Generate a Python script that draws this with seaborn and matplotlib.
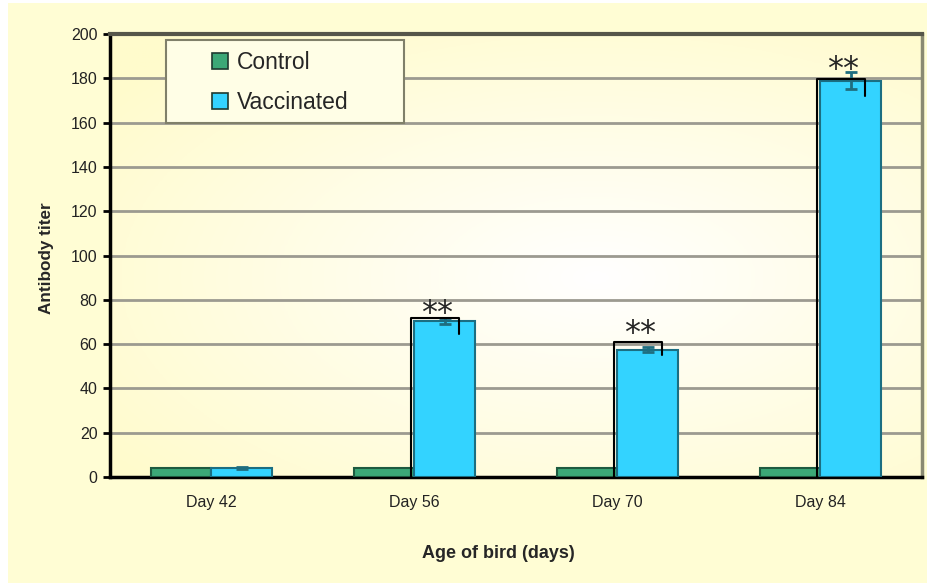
import matplotlib
matplotlib.use("Agg")
import matplotlib.pyplot as plt
from matplotlib.patches import Rectangle
import numpy as np
import pandas as pd
import seaborn as sns

# values
days = ["Day 42", "Day 56", "Day 70", "Day 84"]
control = [4, 4, 4, 4]
vaccinated = [4, 70.5, 57.5, 179]
vacc_err = [0.5, 1.2, 1.0, 4]
# significance brackets (only days 56, 70, 84)
sig_days = ["Day 56", "Day 70", "Day 84"]
bracket_top = [72, 61, 179.5]
bracket_end = [64.5, 55, 172]
star_y = [74, 65, 184]

df = pd.DataFrame({
    "day": days * 2,
    "titer": control + vaccinated,
    "group": ["Control"] * 4 + ["Vaccinated"] * 4,
})

bg = "#FFFDD4"
sns.set_style("white")
plt.rcParams["font.family"] = ["Liberation Sans", "DejaVu Sans"]

fig = plt.figure(figsize=(9.28, 5.83), dpi=100, facecolor="white")
# yellow panel with a thin white strip at left/top like the original
fig.patches.append(Rectangle((8 / 928, 0), 1, 1 - 3 / 583, transform=fig.transFigure,
                             facecolor=bg, edgecolor="none", zorder=-10))
ax = fig.add_axes([110 / 928, 106 / 583, 812 / 928, 443 / 583])
ax.set_zorder(1)

# soft gradient in the plot area
yy, xx = np.mgrid[0:1:200j, 0:1:200j]
r = np.sqrt(((xx - 0.6) / 0.75) ** 2 + ((yy - 0.55) / 0.7) ** 2)
r = np.clip(r, 0, 1)
c0 = np.array([1.0, 1.0, 1.0])
c1 = np.array([1.0, 0.985, 0.80])
img = c0[None, None, :] * (1 - r[..., None]) + c1[None, None, :] * r[..., None]
ax.imshow(img, extent=[0, 1, 0, 1], transform=ax.transAxes, aspect="auto", zorder=0)

sns.barplot(data=df, x="day", y="titer", hue="group", order=days,
            palette={"Control": "#3CA877", "Vaccinated": "#33D3FF"},
            width=0.6, errorbar=None, ax=ax, zorder=3, saturation=1)

ctrl_bars = ax.containers[0]
vacc_bars = ax.containers[1]
for p in ctrl_bars:
    p.set_edgecolor("#1E5A40")
    p.set_linewidth(1.5)
for p in vacc_bars:
    p.set_edgecolor("#1B6E82")
    p.set_linewidth(1.5)

vx = [p.get_x() + p.get_width() / 2 for p in vacc_bars]
ax.errorbar(vx, vaccinated, yerr=vacc_err, fmt="none", ecolor="#1F6E80",
            elinewidth=2, capsize=4, capthick=2, zorder=4)

for d, top, end, sy in zip(sig_days, bracket_top, bracket_end, star_y):
    p = vacc_bars[days.index(d)]
    x0 = p.get_x() - 0.015
    x1 = p.get_x() + 0.22
    ax.plot([x0, x0, x1, x1], [0, top, top, end], color="black", lw=1.5, zorder=5)
    ax.text(p.get_x() + 0.11, sy, "**", ha="center", va="center",
            fontsize=23, family="DejaVu Sans", zorder=6)

ax.set_xlim(-0.5, 3.5)
ax.set_ylim(0, 200)
ax.set_yticks(range(0, 201, 20))
ax.yaxis.grid(True, color="#9C9A90", lw=2)
ax.set_axisbelow(True)
for gl in ax.get_ygridlines():
    gl.set_zorder(1)

ax.set_xticks(range(4))
ax.set_xticklabels(days)
ax.set_xticks([0.5, 1.5, 2.5, 3.5], minor=True)
ax.tick_params(axis="x", which="major", length=0, pad=13, labelsize=11.5, labelcolor="#222222")
ax.tick_params(axis="x", which="minor", length=4, width=2, color="black", direction="out")
ax.tick_params(axis="y", length=5, width=2, color="black", direction="out", labelsize=11.5,
               labelcolor="#222222", left=True, pad=4)

ax.set_xlabel("Age of bird (days)", fontsize=13, fontweight="bold")
ax.xaxis.set_label_coords((498 - 110) / 812, -(545 - 477) / 443)
ax.set_ylabel("Antibody titer", fontsize=12.3, fontweight="bold")
ax.yaxis.set_label_coords(-(110 - 54) / 812, (477 - 258) / 443)

ax.spines["left"].set_color("black")
ax.spines["left"].set_linewidth(2.5)
ax.spines["bottom"].set_color("black")
ax.spines["bottom"].set_linewidth(2.5)
ax.spines["top"].set_color("#56564A")
ax.spines["top"].set_linewidth(3)
ax.spines["right"].set_color("#8A8A72")
ax.spines["right"].set_linewidth(2.5)

# legend box drawn separately, entries placed inside it
box = Rectangle((56 / 812, (477 - 123) / 443), 238 / 812, 83 / 443, transform=ax.transAxes,
                facecolor="#FFFEE6", edgecolor="#80806A", lw=1.5, zorder=9)
ax.add_patch(box)
leg = ax.legend(loc="upper left", bbox_to_anchor=((212 - 110) / 812, (477 - 51) / 443),
                borderaxespad=0, borderpad=0, fontsize=16.5, frameon=False,
                handlelength=0.7, handleheight=0.7, handletextpad=0.4,
                labelspacing=0.75, title=None)
for h in leg.legend_handles:
    h.set_edgecolor("#1E3A30")
    h.set_linewidth(1.2)
leg.set_zorder(10)

fig.savefig("out.png", dpi=100, facecolor="white")
